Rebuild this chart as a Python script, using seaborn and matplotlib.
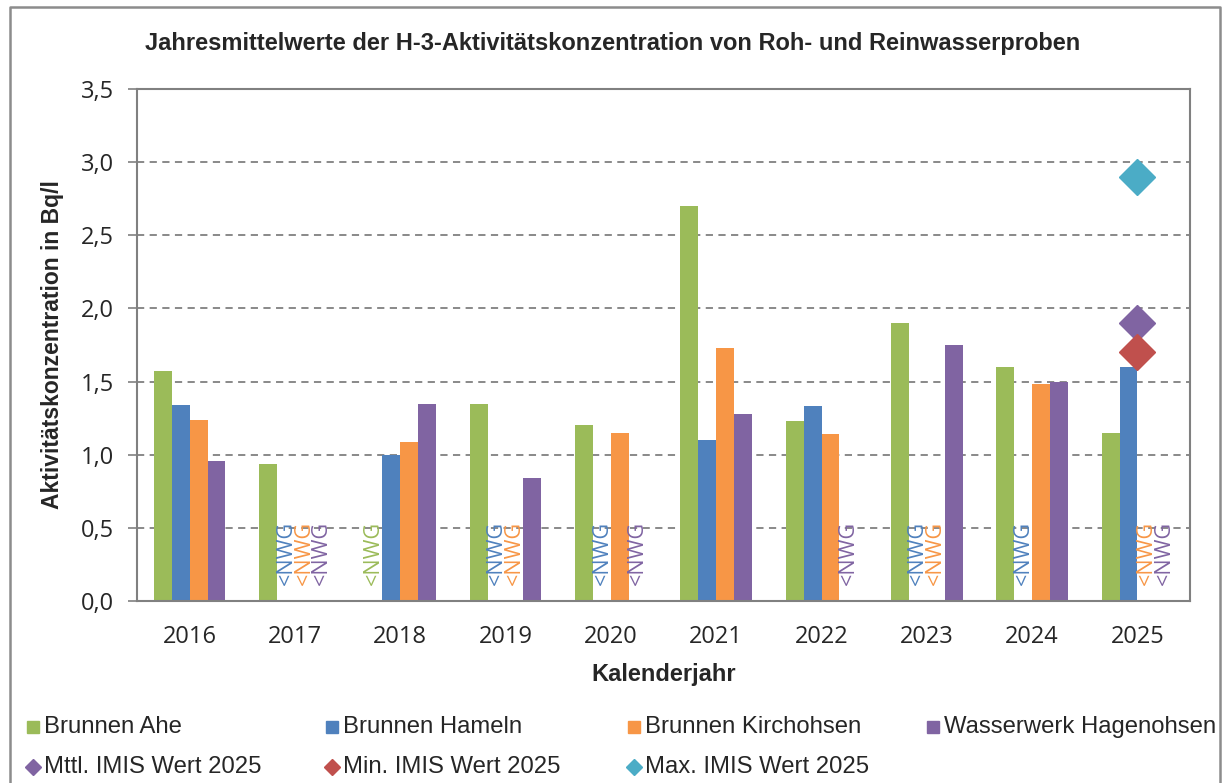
import numpy as np
import pandas as pd
import matplotlib
matplotlib.use('Agg')
import matplotlib.pyplot as plt
import seaborn as sns
from matplotlib.lines import Line2D

# Jahresmittelwerte (NaN = < NWG)
years = ['2016', '2017', '2018', '2019', '2020', '2021', '2022', '2023', '2024', '2025']
ahe = [1.57, 0.94, np.nan, 1.35, 1.20, 2.70, 1.23, 1.90, 1.60, 1.15]
hameln = [1.34, np.nan, 1.00, np.nan, np.nan, 1.10, 1.33, np.nan, np.nan, 1.60]
kirchohsen = [1.24, np.nan, 1.09, np.nan, 1.15, 1.73, 1.14, np.nan, 1.48, np.nan]
hagenohsen = [0.96, np.nan, 1.35, 0.84, np.nan, 1.28, np.nan, 1.75, 1.50, np.nan]
series_names = ['Brunnen Ahe', 'Brunnen Hameln', 'Brunnen Kirchohsen', 'Wasserwerk Hagenohsen']
series_colors = ['#9BBB59', '#4F81BD', '#F79646', '#8064A2']

# IMIS Werte 2025
imis_labels = ['Mttl. IMIS Wert 2025', 'Min. IMIS Wert 2025', 'Max. IMIS Wert 2025']
imis_values = [1.90, 1.70, 2.90]
imis_colors = ['#8064A2', '#C0504D', '#4BACC6']

rows = []
for name, vals in zip(series_names, [ahe, hameln, kirchohsen, hagenohsen]):
    for y, v in zip(years, vals):
        rows.append({'Jahr': y, 'Messstelle': name, 'Wert': v})
df = pd.DataFrame(rows)
df['plot'] = df['Wert'].fillna(0)

sns.set_style('white')
plt.rcParams['font.family'] = ['Liberation Sans', 'DejaVu Sans']
tick_font = ['Open Sans', 'DejaVu Sans']

fig = plt.figure(figsize=(12.28, 7.83), dpi=100)
ax = fig.add_axes([0.1116, 0.2324, 0.8575, 0.654])

sns.barplot(data=df, x='Jahr', y='plot', hue='Messstelle', order=years,
            hue_order=series_names, palette=series_colors, width=0.68,
            linewidth=0, saturation=1, legend=False, ax=ax)

# < NWG Beschriftungen
for cont, name, color in zip(ax.containers, series_names, series_colors):
    sub = df[df['Messstelle'] == name].set_index('Jahr').loc[years]
    for bar, val in zip(cont, sub['Wert']):
        if np.isnan(val):
            xc = bar.get_x() + bar.get_width() / 2
            ax.text(xc, 0.11, '<NWG', rotation=90, ha='center', va='bottom',
                    color=color, fontsize=15.5, family=tick_font)

# IMIS Rauten zwischen Brunnen Hameln und Kirchohsen 2025
hameln_bar = ax.containers[1][years.index('2025')]
xd = hameln_bar.get_x() + hameln_bar.get_width()
for lab, val, col in zip(imis_labels, imis_values, imis_colors):
    ax.plot([xd], [val], marker='D', markersize=18, color=col, linestyle='none', zorder=5)

ax.set_ylim(0, 3.5)
ax.set_xlim(-0.5, len(years) - 0.5)
ax.set_yticks(np.arange(0, 3.51, 0.5))
ax.set_yticklabels([f'{v:.1f}'.replace('.', ',') for v in np.arange(0, 3.51, 0.5)])
ax.yaxis.grid(True, linestyle=(0, (4, 3)), color='#808080', linewidth=1.3)
ax.set_axisbelow(True)
ax.set_xticks(np.arange(-0.5, len(years), 1), minor=True)
ax.tick_params(axis='x', which='major', length=0, pad=17, labelsize=17)
ax.tick_params(axis='x', which='minor', length=7, color='#808080', width=1.2, direction='out')
ax.tick_params(axis='y', length=6.5, color='#808080', width=1.2, direction='out',
               labelsize=17, left=True, pad=10)
for lab in ax.get_xticklabels() + ax.get_yticklabels():
    lab.set_family(tick_font)
for sp in ax.spines.values():
    sp.set_color('#808080')
    sp.set_linewidth(1.5)

ax.set_xlabel('Kalenderjahr', fontsize=17, fontweight='bold', labelpad=10)
ax.set_ylabel('Aktivitätskonzentration in Bq/l', fontsize=16.5, fontweight='bold', labelpad=12)
fig.text(0.499, 0.944, 'Jahresmittelwerte der H-3-Aktivitätskonzentration von Roh- und Reinwasserproben',
         ha='center', va='center', fontsize=17, fontweight='bold')

# Legende (4 Spalten, 2 Zeilen)
col_x = [0.027, 0.270, 0.516, 0.760]
row_y = [1 - 727 / 783, 1 - 767 / 783]
entries = [(n, c, 's', 0) for n, c in zip(series_names, series_colors)] + \
          [(l, c, 'D', 1) for l, c in zip(imis_labels, imis_colors)]
for i, (label, color, mk, r) in enumerate(entries):
    cx = col_x[i % 4] if r == 0 else col_x[i - 4]
    ms = 9 if mk == 's' else 8
    fig.add_artist(Line2D([cx], [row_y[r]], marker=mk, markersize=ms, color=color,
                          linestyle='none', transform=fig.transFigure))
    fig.text(cx + 0.009, row_y[r], label, ha='left', va='center', fontsize=17.2)

# Rahmen (links, oben, rechts)
fx = [10 / 1228, 10 / 1228, 1220 / 1228, 1220 / 1228]
fy = [0, 1 - 7 / 783, 1 - 7 / 783, 0]
fig.add_artist(Line2D(fx, fy, color='#8C8C8C', linewidth=1.8, transform=fig.transFigure))

fig.savefig('out.png', dpi=100)
